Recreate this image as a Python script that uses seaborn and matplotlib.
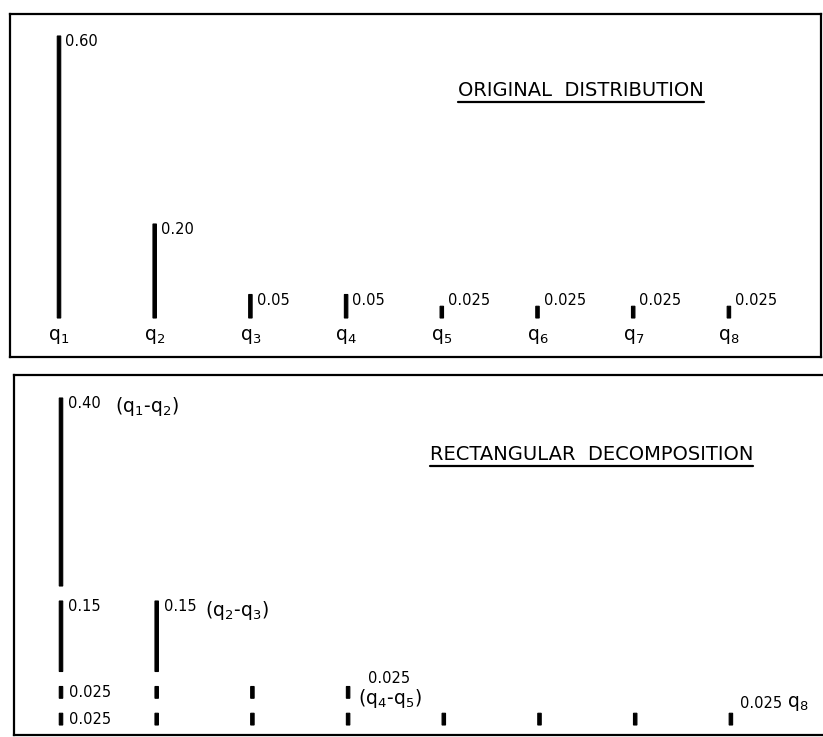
import numpy as np
import pandas as pd
import seaborn as sns
import matplotlib.pyplot as plt
from matplotlib.lines import Line2D

# Original distribution
categories = ["q1", "q2", "q3", "q4", "q5", "q6", "q7", "q8"]
probs = [0.60, 0.20, 0.05, 0.05, 0.025, 0.025, 0.025, 0.025]
prob_labels = ["0.60", "0.20", "0.05", "0.05", "0.025", "0.025", "0.025", "0.025"]
q_labels = ["q$_1$", "q$_2$", "q$_3$", "q$_4$", "q$_5$", "q$_6$", "q$_7$", "q$_8$"]

# Rectangular decomposition, layers from bottom to top
layer_heights = [0.025, 0.025, 0.15, 0.40]
layer_columns = [8, 4, 2, 1]

sns.set_style("white")
plt.rcParams["font.family"] = ["DejaVu Sans"]
plt.rcParams["text.color"] = "black"

fig = plt.figure(figsize=(8.23, 7.37), dpi=100, facecolor="white")
W, H = 823, 737

def px_axes(left, top, right, bottom):
    return fig.add_axes([left / W, 1 - bottom / H, (right - left) / W, (bottom - top) / H])

scale = 470.0    # px per probability unit
step = 95.7      # px between columns
bar_w = 0.036
gap = 15 / scale
num_fs = 10.5
q_fs = 13.5

# ---- top panel ----
ax1 = px_axes(10, 14, 821, 357)
df = pd.DataFrame({"q": categories, "p": probs})
sns.barplot(data=df, x="q", y="p", color="black", width=bar_w, saturation=1,
            errorbar=None, edgecolor="black", linewidth=0.8, ax=ax1)
ax1.set_xlim((10 - 59) / step, (821 - 59) / step)
ax1.set_ylim(-(357 - 318) / scale, (318 - 14) / scale)
for i, (v, lab) in enumerate(zip(probs, prob_labels)):
    ax1.text(i + 0.065, max(v, 0.05) + 0.004, lab, fontsize=num_fs, va="top", ha="left")
    ax1.text(i, -18 / scale, q_labels[i], fontsize=q_fs, va="center", ha="center")
t1 = ax1.text(0.704, 0.776, "ORIGINAL  DISTRIBUTION", transform=ax1.transAxes,
              fontsize=14, ha="center", va="center")

# ---- bottom panel ----
ax2 = px_axes(14, 375, 830, 735)
base = 0.0
for h, n in zip(layer_heights, layer_columns):
    ax2.bar(np.arange(n), [h] * n, bottom=base, width=bar_w, color="black",
            edgecolor="black", linewidth=0.8)
    base += h + gap
ax2.set_xlim((14 - 61) / step, (830 - 61) / step)
ax2.set_ylim(-(735 - 725) / scale, (725 - 375) / scale)

bottoms = np.cumsum([0] + [h + gap for h in layer_heights])[:-1]
tops = bottoms + np.array(layer_heights)
ax2.text(0.075, tops[3] + 0.004, "0.40", fontsize=num_fs, va="top")
ax2.text(0.56, tops[3] - 9 / scale, "(q$_1$-q$_2$)", fontsize=q_fs, va="center")
ax2.text(0.075, tops[2] + 0.004, "0.15", fontsize=num_fs, va="top")
ax2.text(1.075, tops[2] + 0.004, "0.15", fontsize=num_fs, va="top")
ax2.text(1.50, tops[2] - 9 / scale, "(q$_2$-q$_3$)", fontsize=q_fs, va="center")
for b, h in zip(bottoms[:2], layer_heights[:2]):
    ax2.text(0.085, b + h / 2, "0.025", fontsize=num_fs, va="center")
ax2.text(3.43, bottoms[1] + layer_heights[1] / 2 + 14 / scale, "0.025", fontsize=num_fs,
         ha="center", va="center")
ax2.text(3.44, bottoms[1] + layer_heights[1] / 2 - 6 / scale, "(q$_4$-q$_5$)", fontsize=q_fs,
         ha="center", va="center")
ax2.text(7.1, layer_heights[0] + 0.02, "0.025", fontsize=num_fs, va="center")
ax2.text(7.59, layer_heights[0] + 0.02, "q$_8$", fontsize=q_fs, va="center")
t2 = ax2.text(0.708, 0.778, "RECTANGULAR  DECOMPOSITION", transform=ax2.transAxes,
              fontsize=14, ha="center", va="center")

for ax in (ax1, ax2):
    ax.set_xticks([])
    ax.set_yticks([])
    ax.set_xlabel("")
    ax.set_ylabel("")
    for s in ax.spines.values():
        s.set_color("black")
        s.set_linewidth(1.6)
    for p in ax.patches:
        p.set_snap(False)
ax2.spines["right"].set_visible(False)

# underline the two titles
fig.canvas.draw()
for t in (t1, t2):
    bb = t.get_window_extent()
    y = (bb.y0 - 2) / fig.dpi / fig.get_figheight()
    fig.add_artist(Line2D([bb.x0 / fig.dpi / fig.get_figwidth(), bb.x1 / fig.dpi / fig.get_figwidth()],
                          [y, y], color="black", lw=1.6))

fig.savefig("out.png", dpi=100, facecolor="white")
